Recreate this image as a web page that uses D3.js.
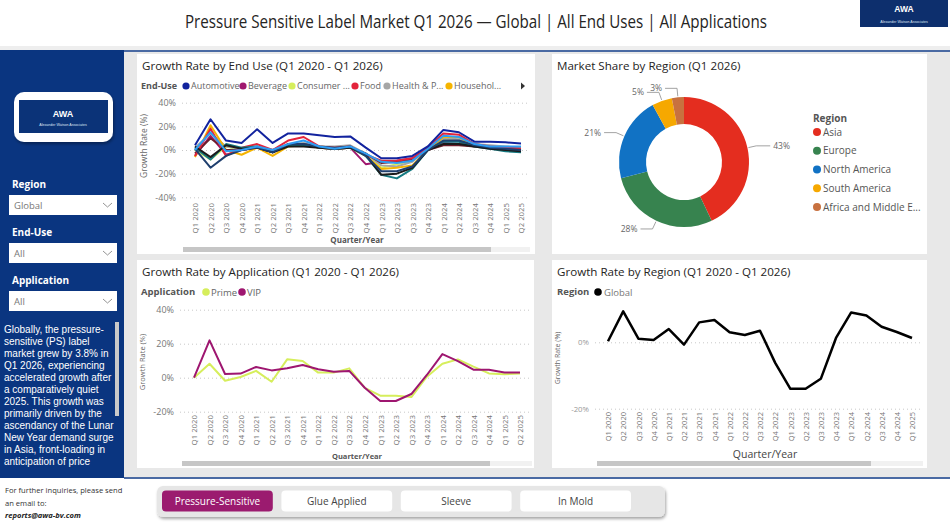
<!DOCTYPE html>
<html>
<head>
<meta charset="utf-8">
<script src="https://cdn.jsdelivr.net/npm/d3@7"></script>
<style>
  body { margin: 0; background: #fff; }
  svg text { font-family: "Segoe UI", "Open Sans", "Noto Sans", sans-serif; }
  svg text.narrow { font-family: "Liberation Sans", Arial, sans-serif; }
</style>
</head>
<body>
<script>
// ---- data ----
const quarters = ["Q1 2020","Q2 2020","Q3 2020","Q4 2020","Q1 2021","Q2 2021","Q3 2021","Q4 2021",
  "Q1 2022","Q2 2022","Q3 2022","Q4 2022","Q1 2023","Q2 2023","Q3 2023","Q4 2023",
  "Q1 2024","Q2 2024","Q3 2024","Q4 2024","Q1 2025","Q2 2025"];

// end-use series (first six are the ones shown in the legend)
const endUseNames = ["Automotive","Beverage","Consumer ...","Food","Health & P...","Househol..."];
const endUseColors = ["#12239E","#A0176E","#D6EE5C","#E3243B","#A6A6A6","#F5B400",
  "#147A82","#1B1B1B","#6E1E2B","#1F3F6E","#2E9CF2"];
const endUseValues = [
  [4, 26, 8, 6, 17.5, 6, 14, 14, 12.5, 11, 11.5, 2, -7, -7, -5, 3, 17, 15, 7, 7, 6.5, 5.5],
  [-5, 12, -4, 0, 2, -2, 4, 4, 2, 1, 2, -12, -10, -9, -7, 1, 6, 5, 4, 2, 1, 0],
  [0, -8, 3, 0, 3, -1, 4, 4, 3, 2, 3, -4, -15, -12, -9, 0, 8, 9, 5, 3, 2, 1],
  [-5, 18, -5, 2, 5, 0, 8, 11, 3, 2, 3, -4, -9, -9, -7, 2, 14, 13, 5, 3, 2, 1],
  [2, 14, 3, 1, 3, 0, 5, 6, 3, 3, 4, -3, -13, -14, -10, 1, 10, 9, 5, 4, 3, 2],
  [-6, 21, 0, -4, 2, -5, 3, 4, 2, 1, 2, -5, -16, -15, -13, 0, 11, 11, 4, 2, 1, 0],
  [2, -8, 5, 2, 3, -2, 4, 4, 2, 1, 2, -5, -21, -24, -16, 0, 7, 7, 3, 1, -1, -2],
  [3, -6, 4, 1, 2, -2, 3, 3, 2, 1, 2, -4, -21, -20, -15, 0, 5, 5, 3, 1, 0, -1],
  [-3, 10, 0, 0, 2, -2, 5, 5, 2, 1, 2, -3, -11, -10, -8, 0, 4, 4, 3, 2, 1, 1],
  [1, -15, -5, 0, 2, -2, 5, 5, 3, 2, 3, -5, -18, -18, -14, 0, 8, 8, 4, 2, 1, 0],
  [0, 15, -1, 0, 3, 0, 5, 8, 3, 1, 3, -3, -10, -11, -9, 1, 12, 11, 5, 3, 3, 3]
];

const regionNames = ["Asia","Europe","North America","South America","Africa and Middle E..."];
const regionColors = ["#E42D1F","#37834F","#1172C4","#F6A800","#C8713F"];
const regionShare = [43, 28, 21, 5, 3];

const appNames = ["Prime","VIP"];
const appColors = ["#D6EE5C","#9E1670"];
const primeValues = [0, 8.2, -1.8, 0.4, 4, -2.4, 10.8, 9.8, 3, 3, 5.5, -6, -10.6, -10.6, -11.4, 0.6, 8.2, 10.8, 6.5, 2.5, 2, 2.5];
const vipValues = [0, 22, 2.2, 2.4, 6.3, 4.3, 5.5, 7.5, 5, 3.5, 4, -5.9, -13.7, -13.7, -9.6, 1.6, 13.9, 9.8, 4.7, 4.7, 3.1, 3.1];

const globalQuarters = quarters.slice(0, 21);
const globalValues = [0.3, 9.3, 1.1, 0.7, 4, -0.7, 6, 6.7, 3, 2.2, 3.5, -6.2, -14, -14, -11, 1.3, 9, 8.1, 4.7, 3.1, 1.3];

const summaryLines = ["Globally, the pressure-","sensitive (PS) label","market grew by 3.8% in",
  "Q1 2026, experiencing","accelerated growth after","a comparatively quiet",
  "2025. This growth was","primarily driven by the","ascendancy of the Lunar",
  "New Year demand surge","in Asia, front-loading in","anticipation of price"];

const buttonLabels = ["Pressure-Sensitive","Glue Applied","Sleeve","In Mold"];

// ---- canvas ----
const width = 950, height = 525;
const svg = d3.select("body").append("svg")
  .attr("width", width).attr("height", height);
const defs = svg.append("defs");

svg.append("rect").attr("width", width).attr("height", height).attr("fill", "#fff");

// header (narrow face, stretched vertically like the condensed original)
svg.append("text")
  .attr("transform", "translate(476,28) scale(1,1.3)")
  .attr("text-anchor", "middle")
  .attr("font-size", 14.6).attr("fill", "#252423")
  .attr("textLength", 582).attr("lengthAdjust", "spacingAndGlyphs")
  .text("Pressure Sensitive Label Market Q1 2026 \u2014 Global | All End Uses | All Applications");
svg.append("rect").attr("x", 0).attr("y", 46).attr("width", width).attr("height", 4).attr("fill", "#eeeeee");

const topLogo = svg.append("g");
topLogo.append("rect").attr("x", 860).attr("y", 0).attr("width", 88).attr("height", 27).attr("fill", "#0d2f6d");
topLogo.append("text").attr("class", "narrow").attr("x", 904).attr("y", 12).attr("text-anchor", "middle")
  .attr("font-size", 8.5).attr("font-weight", "bold").attr("fill", "#fff").text("AWA");
topLogo.append("text").attr("class", "narrow").attr("x", 904).attr("y", 22.5).attr("text-anchor", "middle")
  .attr("font-size", 3.6).attr("fill", "#dfe6f3").text("Alexander Watson Associates");

// main grey area + blue rules
svg.append("rect").attr("x", 124).attr("y", 50).attr("width", 826).attr("height", 428).attr("fill", "#e8e8e8");
svg.append("rect").attr("x", 124).attr("y", 50).attr("width", 826).attr("height", 2).attr("fill", "#4a6aa3");
svg.append("rect").attr("x", 124).attr("y", 477).attr("width", 826).attr("height", 2).attr("fill", "#4a6aa3");

// cards
const cards = [[137, 54, 398, 200], [552, 54, 375, 200], [137, 260, 397, 208], [552, 260, 375, 208]];
svg.selectAll("rect.card").data(cards).enter().append("rect")
  .attr("class", "card")
  .attr("x", d => d[0]).attr("y", d => d[1])
  .attr("width", d => d[2]).attr("height", d => d[3])
  .attr("fill", "#fff");

// ---- left panel ----
const side = svg.append("g");
side.append("rect").attr("x", 0).attr("y", 50).attr("width", 124).attr("height", 428).attr("fill", "#0a3580");

const shadow = defs.append("filter").attr("id", "shadow").attr("x", "-20%").attr("y", "-20%").attr("width", "140%").attr("height", "150%");
shadow.append("feDropShadow").attr("dx", 1).attr("dy", 2).attr("stdDeviation", 1.5).attr("flood-color", "#000").attr("flood-opacity", 0.35);

side.append("rect").attr("x", 14).attr("y", 92).attr("width", 99).attr("height", 50).attr("rx", 10)
  .attr("fill", "#fff").attr("filter", "url(#shadow)");
side.append("rect").attr("x", 19).attr("y", 100).attr("width", 89).attr("height", 33).attr("fill", "#0b3378");
side.append("text").attr("class", "narrow").attr("x", 63).attr("y", 117).attr("text-anchor", "middle")
  .attr("font-size", 9).attr("font-weight", "bold").attr("fill", "#fff").text("AWA");
side.append("text").attr("class", "narrow").attr("x", 63).attr("y", 125.5).attr("text-anchor", "middle")
  .attr("font-size", 3.6).attr("fill", "#dfe6f3").text("Alexander Watson Associates");

const slicers = [["Region", "Global", 184], ["End-Use", "All", 232], ["Application", "All", 280]];
slicers.forEach(s => {
  side.append("text").attr("x", 12).attr("y", s[2] + 4)
    .attr("font-size", 10).attr("font-weight", "bold").attr("fill", "#fff").text(s[0]);
  side.append("rect").attr("x", 9).attr("y", s[2] + 11).attr("width", 108).attr("height", 20).attr("fill", "#fff");
  side.append("text").attr("x", 14).attr("y", s[2] + 25)
    .attr("font-size", 9.5).attr("fill", "#777").text(s[1]);
  side.append("path")
    .attr("d", `M${103},${s[2] + 19} L${107.5},${s[2] + 23} L${112},${s[2] + 19}`)
    .attr("fill", "none").attr("stroke", "#888").attr("stroke-width", 0.9);
});

defs.append("clipPath").attr("id", "sideClip")
  .append("rect").attr("x", 0).attr("y", 318).attr("width", 124).attr("height", 154);
const summary = side.append("g").attr("clip-path", "url(#sideClip)");
summary.selectAll("text").data(summaryLines).enter().append("text")
  .attr("class", "narrow")
  .attr("x", 4).attr("y", (d, i) => 333 + i * 12)
  .attr("font-size", 10).attr("fill", "#fff")
  .text(d => d);
side.append("rect").attr("x", 115).attr("y", 322).attr("width", 4).attr("height", 94).attr("fill", "#c9c9c9");

// ---- footer ----
const foot = svg.append("g");
foot.append("text").attr("x", 5).attr("y", 493).attr("font-size", 7.6).attr("fill", "#333").text("For further inquiries, please send");
foot.append("text").attr("x", 5).attr("y", 506).attr("font-size", 7.6).attr("fill", "#333").text("an email to:");
foot.append("text").attr("x", 5).attr("y", 518).attr("font-size", 7.6).attr("font-weight", "bold")
  .attr("font-style", "italic").attr("fill", "#222").text("reports@awa-bv.com");

foot.append("rect").attr("x", 157).attr("y", 486).attr("width", 508).attr("height", 31).attr("rx", 6)
  .attr("fill", "#e6e6e6").attr("filter", "url(#shadow)");
const btnX = d3.scaleBand().domain(buttonLabels).range([162, 631]).paddingInner(0.072);
const btn = foot.selectAll("g.btn").data(buttonLabels).enter().append("g").attr("class", "btn");
btn.append("rect")
  .attr("x", d => btnX(d)).attr("y", 490.5).attr("width", btnX.bandwidth()).attr("height", 21).attr("rx", 4)
  .attr("fill", (d, i) => i === 0 ? "#9B1B6F" : "#fff");
btn.append("text")
  .attr("x", d => btnX(d) + btnX.bandwidth() / 2).attr("y", 504.5)
  .attr("text-anchor", "middle").attr("font-size", 10)
  .attr("fill", (d, i) => i === 0 ? "#fff" : "#444")
  .text(d => d);

// ---- helpers ----
function cardTitle(x, y, label) {
  svg.append("text").attr("x", x).attr("y", y).attr("font-size", 11.6).attr("fill", "#252423").text(label);
}

function yAxisGrid(y, left, right, ticks, fontSize, color) {
  const g = svg.append("g").attr("transform", `translate(${left},0)`)
    .call(d3.axisLeft(y).tickValues(ticks).tickFormat(d => d + "%").tickSize(-(right - left)).tickPadding(6));
  g.select(".domain").remove();
  g.selectAll(".tick line").attr("stroke", "#c8c8c8").attr("stroke-dasharray", "1,3");
  g.selectAll(".tick text").attr("font-size", fontSize).attr("fill", color);
  return g;
}

function xAxisRotated(x, top, fontSize) {
  const g = svg.append("g").attr("transform", `translate(0,${top})`)
    .call(d3.axisBottom(x).tickSize(0));
  g.select(".domain").remove();
  g.selectAll(".tick text")
    .attr("transform", "rotate(-90)")
    .attr("x", -3).attr("y", 0).attr("dy", "0.35em")
    .attr("text-anchor", "end")
    .attr("font-size", fontSize).attr("fill", "#777");
  return g;
}

function yTitle(x, y, size) {
  svg.append("text").attr("transform", `translate(${x},${y}) rotate(-90)`)
    .attr("text-anchor", "middle").attr("font-size", size).attr("fill", "#666").text("Growth Rate (%)");
}

function scrollBar(x0, x1, x2, y) {
  svg.append("rect").attr("x", x0).attr("y", y).attr("width", x2 - x0).attr("height", 5).attr("fill", "#f1f1f1");
  svg.append("rect").attr("x", x0).attr("y", y).attr("width", x1 - x0).attr("height", 5).attr("fill", "#c6c6c6");
}

// ---- chart 1: growth by end use ----
cardTitle(142, 70, "Growth Rate by End Use (Q1 2020 - Q1 2026)");
const x1 = d3.scalePoint().domain(quarters).range([195, 521]);
const y1 = d3.scaleLinear().domain([-40, 40]).range([197.3, 102.7]);
yAxisGrid(y1, 182, 530, [-40, -20, 0, 20, 40], 9, "#777");
xAxisRotated(x1, 200, 7.8);
yTitle(147, 146, 8.5);
svg.append("text").attr("x", 357).attr("y", 243).attr("text-anchor", "middle")
  .attr("font-size", 8).attr("font-weight", "bold").attr("fill", "#555").text("Quarter/Year");
scrollBar(183, 491, 530, 247);

const line1 = d3.line().x((d, i) => x1(quarters[i])).y(d => y1(d)).curve(d3.curveLinear);
const drawOrder = [1, 2, 4, 5, 8, 3, 6, 7, 9, 10, 0];
svg.append("g").selectAll("path").data(drawOrder).enter().append("path")
  .attr("d", k => line1(endUseValues[k]))
  .attr("fill", "none").attr("stroke", k => endUseColors[k])
  .attr("stroke-width", 2).attr("stroke-linejoin", "round");

svg.append("text").attr("x", 141).attr("y", 89).attr("font-size", 9).attr("font-weight", "bold").attr("fill", "#555").text("End-Use");
const leg1X = [186, 243, 292, 355, 387, 449];
const leg1 = svg.append("g").selectAll("g").data(endUseNames).enter().append("g");
leg1.append("circle").attr("cx", (d, i) => leg1X[i]).attr("cy", 86).attr("r", 3.6).attr("fill", (d, i) => endUseColors[i]);
leg1.append("text").attr("x", (d, i) => leg1X[i] + 5).attr("y", 89).attr("font-size", 9).attr("fill", "#666").text(d => d);
svg.append("path").attr("d", "M521,82.5 L525,86 L521,89.5 Z").attr("fill", "#333");

// ---- chart 2: market share donut ----
cardTitle(557, 70, "Market Share by Region (Q1 2026)");
const cx = 684, cy = 162;
const pie = d3.pie().sort(null).value(d => d);
const arcs = pie(regionShare);
const arc = d3.arc().innerRadius(38).outerRadius(65);
const donut = svg.append("g").attr("transform", `translate(${cx},${cy})`);
donut.selectAll("path").data(arcs).enter().append("path")
  .attr("d", arc).attr("fill", (d, i) => regionColors[i]);

const pt = (a, r) => [Math.sin(a) * r, -Math.cos(a) * r];
arcs.forEach(a => {
  const mid = (a.startAngle + a.endAngle) / 2;
  const p0 = pt(mid, 66), p1 = pt(mid, 74);
  const right = Math.sin(mid) > 0;
  const p2 = [p1[0] + (right ? 14 : -12), p1[1]];
  donut.append("polyline").attr("points", [p0, p1, p2].map(p => p.join(",")).join(" "))
    .attr("fill", "none").attr("stroke", "#999").attr("stroke-width", 0.9);
  donut.append("text").attr("x", p2[0] + (right ? 3 : -3)).attr("y", p2[1] + 3)
    .attr("text-anchor", right ? "start" : "end")
    .attr("font-size", 8.5).attr("fill", "#666").text(a.data + "%");
});

svg.append("text").attr("x", 813).attr("y", 122).attr("font-size", 10).attr("font-weight", "bold").attr("fill", "#555").text("Region");
const legY = d3.scalePoint().domain(regionNames).range([132, 207]);
const leg2 = svg.append("g").selectAll("g").data(regionNames).enter().append("g");
leg2.append("circle").attr("cx", 817).attr("cy", d => legY(d)).attr("r", 4).attr("fill", (d, i) => regionColors[i]);
leg2.append("text").attr("x", 823).attr("y", d => legY(d) + 3.5).attr("font-size", 10).attr("fill", "#555").text(d => d);

// ---- chart 3: growth by application ----
cardTitle(142, 276, "Growth Rate by Application (Q1 2020 - Q1 2026)");
const x3 = d3.scalePoint().domain(quarters).range([194, 520]);
const y3 = d3.scaleLinear().domain([-20, 40]).range([411.7, 309.7]);
yAxisGrid(y3, 180, 530, [-20, 0, 20, 40], 9, "#777");
xAxisRotated(x3, 412, 7.8);
yTitle(145, 362, 7.5);
svg.append("text").attr("x", 357).attr("y", 459).attr("text-anchor", "middle")
  .attr("font-size", 7.5).attr("font-weight", "bold").attr("fill", "#555").text("Quarter/Year");
scrollBar(182, 490, 532, 461);

const line3 = d3.line().x((d, i) => x3(quarters[i])).y(d => y3(d));
svg.append("g").selectAll("path").data([primeValues, vipValues]).enter().append("path")
  .attr("d", line3).attr("fill", "none").attr("stroke", (d, i) => appColors[i])
  .attr("stroke-width", 2).attr("stroke-linejoin", "round");

svg.append("text").attr("x", 141).attr("y", 295).attr("font-size", 9.5).attr("font-weight", "bold").attr("fill", "#555").text("Application");
const leg3X = [206, 242];
const leg3 = svg.append("g").selectAll("g").data(appNames).enter().append("g");
leg3.append("circle").attr("cx", (d, i) => leg3X[i]).attr("cy", 292).attr("r", 3.8).attr("fill", (d, i) => appColors[i]);
leg3.append("text").attr("x", (d, i) => leg3X[i] + 5).attr("y", 295.5).attr("font-size", 9.5).attr("fill", "#666").text(d => d);

// ---- chart 4: growth by region ----
cardTitle(557, 276, "Growth Rate by Region (Q1 2020 - Q1 2026)");
const x4 = d3.scalePoint().domain(globalQuarters).range([608, 912]);
const y4 = d3.scaleLinear().domain([-20, 0]).range([408.7, 342.3]);
yAxisGrid(y4, 595, 923, [-20, 0], 7.8, "#999");
xAxisRotated(x4, 409, 7.5);
yTitle(560, 358, 7);
svg.append("text").attr("x", 765).attr("y", 458).attr("text-anchor", "middle")
  .attr("font-size", 10.5).attr("fill", "#444").text("Quarter/Year");
scrollBar(597, 871, 923, 461);

const line4 = d3.line().x((d, i) => x4(globalQuarters[i])).y(d => y4(d));
svg.append("path").attr("d", line4(globalValues)).attr("fill", "none")
  .attr("stroke", "#000").attr("stroke-width", 2.5).attr("stroke-linejoin", "round");

svg.append("text").attr("x", 557).attr("y", 295).attr("font-size", 9.5).attr("font-weight", "bold").attr("fill", "#555").text("Region");
svg.append("circle").attr("cx", 598).attr("cy", 292).attr("r", 3.8).attr("fill", "#000");
svg.append("text").attr("x", 604).attr("y", 295.5).attr("font-size", 9.5).attr("fill", "#777").text("Global");
</script>
</body>
</html>
